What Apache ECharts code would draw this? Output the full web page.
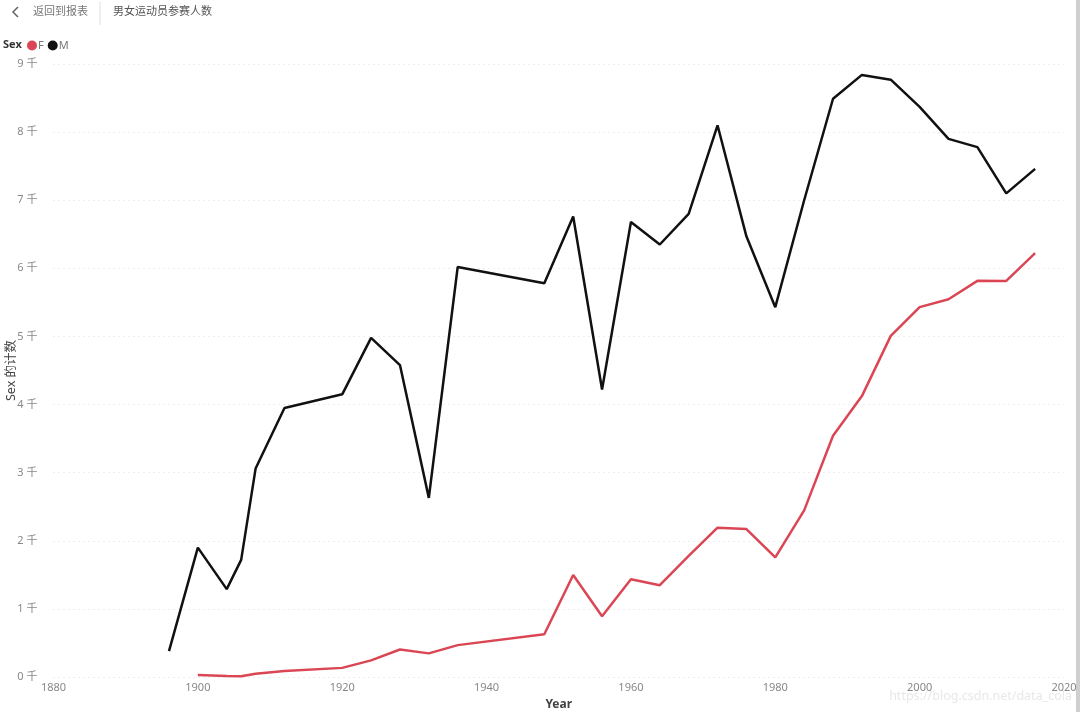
<!DOCTYPE html>
<html>
<head>
<meta charset="utf-8">
<script src="https://cdn.jsdelivr.net/npm/echarts@6/dist/echarts.min.js"></script>
<style>
  html, body { margin: 0; padding: 0; background: #fff; }
  #chart { width: 1080px; height: 712px; }
</style>
</head>
<body>
<div id="chart"></div>
<script>
// 男女运动员参赛人数 — line chart, Sex count by Year

const yearsM = [1896, 1900, 1904, 1906, 1908, 1912, 1920, 1924, 1928, 1932, 1936, 1948, 1952, 1956,
  1960, 1964, 1968, 1972, 1976, 1980, 1984, 1988, 1992, 1996, 2000, 2004, 2008, 2012, 2016];
const countM = [380, 1900, 1290, 1720, 3060, 3950, 4150, 4980, 4580, 2630, 6020, 5780, 6760, 4220,
  6680, 6350, 6800, 8100, 6470, 5430, 7000, 8490, 8840, 8770, 8370, 7900, 7780, 7100, 7460];

const yearsF = [1900, 1904, 1906, 1908, 1912, 1920, 1924, 1928, 1932, 1936, 1948, 1952, 1956,
  1960, 1964, 1968, 1972, 1976, 1980, 1984, 1988, 1992, 1996, 2000, 2004, 2008, 2012, 2016];
const countF = [30, 16, 11, 47, 87, 134, 244, 404, 347, 468, 628, 1497, 893,
  1435, 1348, 1777, 2193, 2172, 1756, 2447, 3543, 4124, 5008, 5431, 5546, 5816, 5815, 6223];

const sexNames = ['F', 'M'];
const sexColors = ['#DB4655', '#111111'];

const font = '"Noto Sans", "Noto Sans CJK SC", sans-serif';

const chart = echarts.init(document.getElementById('chart'), null, { renderer: 'canvas' });

const option = {
  animation: false,
  textStyle: { fontFamily: font },
  grid: { left: 53.5, right: 16, top: 64, bottom: 35, containLabel: false, outerBoundsMode: 'none' },
  legend: {
    left: 22, top: 35,
    icon: 'circle',
    itemWidth: 10, itemHeight: 10, itemGap: 4,
    textStyle: { color: '#777', fontSize: 11, padding: [0, 0, 0, -4] },
    data: sexNames
  },
  xAxis: {
    type: 'value',
    min: 1880, max: 2020, interval: 20,
    name: 'Year',
    nameLocation: 'middle',
    nameGap: 22,
    nameMoveOverlap: false,
    nameTextStyle: { color: '#444', fontSize: 12, fontWeight: 'bold' },
    axisLine: { show: false },
    axisTick: { show: false },
    splitLine: { show: false },
    axisLabel: { color: '#888', fontSize: 11, margin: 5, formatter: v => String(v) }
  },
  yAxis: {
    type: 'value',
    min: 0, max: 9000, interval: 1000,
    name: 'Sex 的计数',
    nameLocation: 'middle',
    nameGap: 36,
    nameMoveOverlap: false,
    nameTextStyle: { color: '#444', fontSize: 12.5 },
    axisLine: { show: false },
    axisTick: { show: false },
    axisLabel: {
      color: '#888', fontSize: 11, margin: 16,
      formatter: v => (v / 1000) + ' 千'
    },
    splitLine: { lineStyle: { color: '#ddd', type: [1, 4], width: 1 } }
  },
  series: [
    {
      name: 'F', type: 'line',
      data: yearsF.map((y, i) => [y, countF[i]]),
      showSymbol: false,
      lineStyle: { width: 2.5, color: sexColors[0] },
      itemStyle: { color: sexColors[0] }
    },
    {
      name: 'M', type: 'line',
      data: yearsM.map((y, i) => [y, countM[i]]),
      showSymbol: false,
      lineStyle: { width: 2.5, color: sexColors[1] },
      itemStyle: { color: sexColors[1] }
    }
  ],
  graphic: [
    // header
    { type: 'polyline', shape: { points: [[18, 7], [13, 12], [18, 17]] },
      style: { stroke: '#666', lineWidth: 1.5, fill: null } },
    { type: 'text', left: 33, top: 6,
      style: { text: '返回到报表', fill: '#777', font: '11px ' + font } },
    { type: 'line', shape: { x1: 100, y1: 2, x2: 100, y2: 25 },
      style: { stroke: '#ddd', lineWidth: 1 } },
    { type: 'text', left: 113, top: 6,
      style: { text: '男女运动员参赛人数', fill: '#555', font: '11px ' + font } },
    // legend title
    { type: 'text', left: 3, top: 39,
      style: { text: 'Sex', fill: '#333', font: 'bold 11px ' + font } },
    // right edge bar
    { type: 'rect', shape: { x: 1076, y: 0, width: 4, height: 712 },
      style: { fill: '#cfcfcf' } },
    // watermark
    { type: 'text', right: 8, top: 690,
      style: { text: 'https://blog.csdn.net/data_cola', fill: '#e8e8e8',
        font: '12.5px ' + font } }
  ]
};

chart.setOption(option);
</script>
</body>
</html>
